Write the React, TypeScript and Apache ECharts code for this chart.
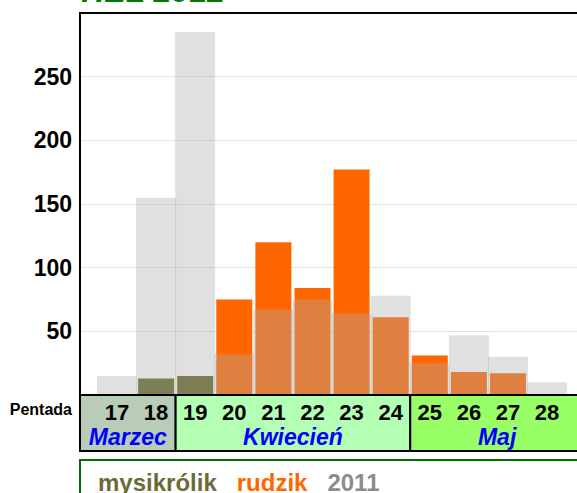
import React, { useEffect, useRef } from "react";
import * as echarts from "echarts";

const pentads = [17, 18, 19, 20, 21, 22, 23, 24, 25, 26, 27, 28];
const mysikrolik = [0, 13, 15, 0, 0, 0, 0, 0, 0, 0, 0, 0];
const rudzik = [0, 0, 0, 75, 120, 84, 177, 61, 31, 18, 17, 0];
const y2011 = [15, 155, 285, 32, 67, 75, 64, 78, 25, 47, 30, 10];
const yTicks = [50, 100, 150, 200, 250];
const monthNames = ["Marzec", "Kwiecień", "Maj"];
const monthFirst = [17, 19, 25];
const monthLast = [18, 24, 28];
const monthColors = ["#b8ccb8", "#b3ffb3", "#99ff66"];
const seriesNames = ["mysikrólik", "rudzik", "2011"];

const W = 577;
const H = 493;
const GL = 80;
const GT = 13;
const GB = 395;
const XMIN = 16.054;
const XMAX = 28.765;
const xPix = (v: number) => GL + ((v - XMIN) / (XMAX - XMIN)) * (W - GL);

const toPairs = (vals: number[]) =>
  pentads.map((p, i) => [p, vals[i]]).filter((d) => d[1] > 0);

export default function App() {
  const ref = useRef<HTMLDivElement>(null);
  useEffect(() => {
    if (!ref.current) return;
    const chart = echarts.init(ref.current, null, { renderer: "svg" });
    const font = "'Liberation Sans', Arial, sans-serif";
    const graphics: any[] = [];
    // title (cut off at top)
    graphics.push({
      type: "text",
      x: 80,
      y: 7,
      z: 50,
      style: {
        text: "HEL 2012",
        font: `bold 32px ${font}`,
        fill: "#007a00",
        textVerticalAlign: "bottom",
      },
    });
    // plot frame
    graphics.push({
      type: "rect",
      z: 100,
      shape: { x: GL, y: GT, width: W - GL + 20, height: GB - GT },
      style: { fill: "none", stroke: "#000", lineWidth: 2 },
    });
    // month cells
    monthNames.forEach((m, i) => {
      const x0 = i === 0 ? GL : xPix(monthFirst[i] - 0.5);
      const x1 = i === monthNames.length - 1 ? W + 20 : xPix(monthLast[i] + 0.5);
      graphics.push({
        type: "rect",
        z: 1,
        shape: { x: x0, y: GB, width: x1 - x0, height: 56 },
        style: { fill: monthColors[i], stroke: "#000", lineWidth: 2 },
      });
      const cx = i === monthNames.length - 1 ? (x0 + 584) / 2 : (x0 + x1) / 2;
      graphics.push({
        type: "text",
        z: 20,
        x: cx,
        y: 437,
        style: {
          text: m,
          font: `italic bold 23px ${font}`,
          fill: "#0000ff",
          align: "center",
          verticalAlign: "middle",
        },
      });
    });
    graphics.push({
      type: "text",
      z: 20,
      x: 72,
      y: 409,
      style: {
        text: "Pentada",
        font: `bold 16px ${font}`,
        fill: "#000",
        align: "right",
        verticalAlign: "middle",
      },
    });
    // legend box
    graphics.push({
      type: "rect",
      z: 1,
      shape: { x: GL, y: 460, width: W - GL + 20, height: 80 },
      style: { fill: "none", stroke: "#007000", lineWidth: 2 },
    });

    chart.setOption({
      animation: false,
      grid: { left: GL, top: GT, right: 0, bottom: H - GB, containLabel: false },
      xAxis: [
        {
          type: "value",
          min: XMIN,
          max: XMAX,
          z: 10,
          axisLine: { show: false },
          axisTick: { show: false },
          splitLine: { show: false },
          axisLabel: {
            customValues: pentads,
            formatter: (v: number) => String(Math.round(v)),
            color: "#000",
            fontFamily: font,
            fontWeight: "bold",
            fontSize: 22,
            margin: 6,
          },
        },
        {
          type: "value",
          min: XMIN,
          max: XMAX,
          show: false,
        },
      ],
      yAxis: {
        type: "value",
        min: 0,
        max: 300,
        interval: 50,
        axisLine: { show: false },
        axisTick: { show: false },
        splitLine: { lineStyle: { color: "#e2e2e2", width: 1 } },
        axisLabel: {
          formatter: (v: number) => (yTicks.includes(v) ? String(v) : ""),
          color: "#000",
          fontFamily: font,
          fontWeight: "bold",
          fontSize: 23,
          margin: 8,
        },
      },
      legend: {
        left: 88,
        top: 465,
        icon: "none",
        itemWidth: 0,
        itemGap: 15,
        selectedMode: false,
        data: [
          { name: seriesNames[0], textStyle: { color: "#6b6b35" } },
          { name: seriesNames[1], textStyle: { color: "#ff6600" } },
          { name: seriesNames[2], textStyle: { color: "#8c8c8c" } },
        ],
        textStyle: { fontFamily: font, fontWeight: "bold", fontSize: 24 },
      },
      series: [
        {
          name: seriesNames[0],
          type: "bar",
          xAxisIndex: 0,
          barWidth: 36,
          barGap: "-100%",
          itemStyle: { color: "#646420" },
          data: toPairs(mysikrolik),
        },
        {
          name: seriesNames[1],
          type: "bar",
          xAxisIndex: 0,
          barWidth: 36,
          barGap: "-100%",
          itemStyle: { color: "#ff6600" },
          data: toPairs(rudzik),
        },
        {
          name: seriesNames[2],
          type: "bar",
          xAxisIndex: 1,
          barWidth: 40,
          z: 3,
          itemStyle: { color: "rgba(172,172,172,0.373)" },
          data: toPairs(y2011),
        },
      ],
      graphic: { elements: graphics },
    });
    return () => chart.dispose();
  }, []);
  return (
    <div
      ref={ref}
      style={{ position: "absolute", left: 0, top: 0, width: W, height: H }}
    />
  );
}
